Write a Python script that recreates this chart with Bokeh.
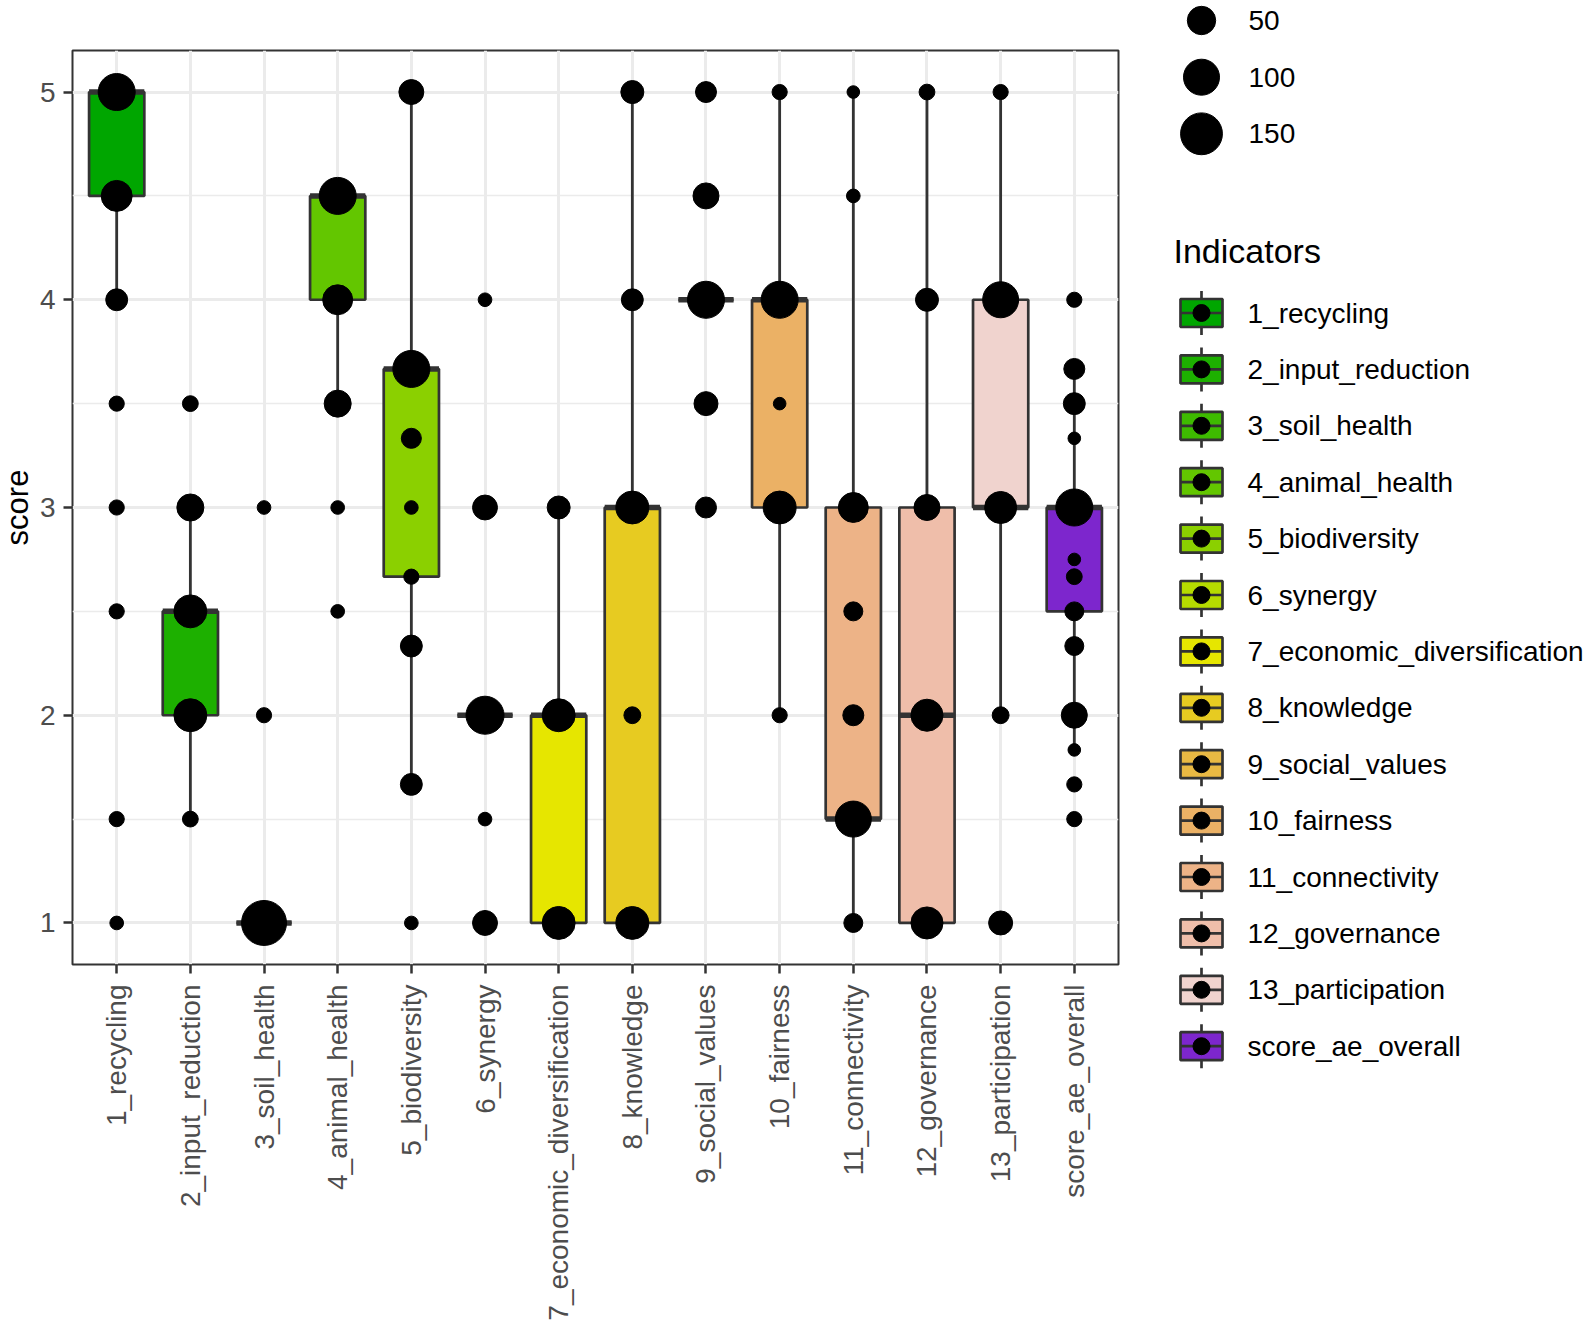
import numpy as np
from bokeh.plotting import figure
from bokeh.models import Range1d, FixedTicker, ColumnDataSource
from bokeh.layouts import row, column
from bokeh.embed import file_html
from bokeh.resources import INLINE
from bokeh.core.properties import value

# ---------------- data ----------------
indicators = ["1_recycling", "2_input_reduction", "3_soil_health", "4_animal_health",
              "5_biodiversity", "6_synergy", "7_economic_diversification", "8_knowledge",
              "9_social_values", "10_fairness", "11_connectivity", "12_governance",
              "13_participation", "score_ae_overall"]

box_q1 = [4.5, 2.0, 1.0, 4.0, 2.667, 2.0, 1.0, 1.0, 4.0, 3.0, 1.5, 1.0, 3.0, 2.5]
box_median = [5.0, 2.5, 1.0, 4.5, 3.667, 2.0, 2.0, 3.0, 4.0, 4.0, 1.5, 2.0, 3.0, 3.0]
box_q3 = [5.0, 2.5, 1.0, 4.5, 3.667, 2.0, 2.0, 3.0, 4.0, 4.0, 3.0, 3.0, 4.0, 3.0]
whisker_low = [4.0, 1.5, 1.0, 3.5, 1.667, 2.0, 1.0, 1.0, 4.0, 2.0, 1.0, 1.0, 2.0, 1.833]
whisker_high = [5.0, 3.0, 1.0, 4.5, 5.0, 2.0, 3.0, 5.0, 4.0, 5.0, 5.0, 5.0, 5.0, 3.667]

point_scores = [
    [5, 4.5, 4, 3.5, 3, 2.5, 1.5, 1],
    [3.5, 3, 2.5, 2, 1.5],
    [3, 2, 1],
    [4.5, 4, 3.5, 3, 2.5],
    [5, 3.667, 3.333, 3, 2.667, 2.333, 1.667, 1],
    [4, 3, 2, 1.5, 1],
    [3, 2, 1],
    [5, 4, 3, 2, 1],
    [5, 4.5, 4, 3.5, 3],
    [5, 4, 3.5, 3, 2],
    [5, 4.5, 3, 2.5, 2, 1.5, 1],
    [5, 4, 3, 2, 1],
    [5, 4, 3, 2, 1],
    [4, 3.667, 3.5, 3.333, 3, 2.75, 2.667, 2.5, 2.333, 2, 1.833, 1.667, 1.5],
]
point_counts = [
    [108, 65, 21, 4, 4, 4, 4, 2],
    [5, 43, 78, 78, 5],
    [2, 4, 181],
    [108, 59, 43, 2, 2],
    [33, 108, 15, 2, 4, 21, 21, 2],
    [2, 33, 116, 2, 33],
    [25, 78, 78],
    [25, 21, 78, 7, 78],
    [18, 38, 108, 29, 18],
    [4, 108, 1, 78, 4],
    [1, 2, 59, 12, 18, 100, 12],
    [5, 25, 38, 72, 72],
    [4, 100, 72, 7, 29],
    [4, 18, 21, 1, 108, 1, 5, 12, 12, 38, 1, 4, 4],
]
size_legend_values = [50, 100, 150]
y_ticks = [1, 2, 3, 4, 5]

fill_colors = ["#00A600", "#1DB000", "#3EBB00", "#63C600", "#8BD000", "#B6DB00", "#E6E600",
               "#E7CB21", "#E9B943", "#EBB165", "#EDB387", "#EFBEAA", "#F0D3CE", "#7D26CD"]

FONT = "Liberation Sans"
EDGE = "#333333"
H = 1330


def diam(n):
    return 10.0 + 2.6 * np.sqrt(np.asarray(n, dtype=float))


def blank_fig(w, flip=True):
    yr = Range1d(H, 0) if flip else Range1d(0, H)
    f = figure(width=w, height=H, x_range=Range1d(0, w), y_range=yr,
               output_backend="svg", toolbar_location=None, min_border=0,
               x_axis_location=None, y_axis_location=None)
    f.outline_line_color = None
    f.grid.visible = False
    f.background_fill_color = "white"
    f.border_fill_color = "white"
    return f


# ---------------- y-axis title strip ----------------
SW = 36
sf = blank_fig(SW, flip=False)
sf.text(x=[17], y=[H - 507], text=["score"], angle=np.pi / 2, text_align="center",
        text_baseline="middle", text_font=value(FONT), text_font_size=value("31px"),
        text_color="black")

# ---------------- main panel ----------------
p = figure(width=1128 - SW, height=H, x_range=Range1d(0.4, 14.6), y_range=Range1d(0.8, 5.2),
           output_backend="svg", toolbar_location=None,
           min_border_left=72 - SW, min_border_top=50, min_border_right=10,
           min_border_bottom=H - 50 - 914)
p.background_fill_color = "white"
p.border_fill_color = "white"
p.outline_line_color = EDGE
p.outline_line_width = 2

xpos = list(range(1, len(indicators) + 1))
bw = 0.75

box_src = ColumnDataSource(dict(x=xpos, q1=box_q1, q3=box_q3, med=box_median,
                                lo=whisker_low, hi=whisker_high, color=fill_colors,
                                x0=[x - bw / 2 for x in xpos], x1=[x + bw / 2 for x in xpos]))
p.segment(x0="x", y0="q3", x1="x", y1="hi", source=box_src, line_color=EDGE, line_width=2.8)
p.segment(x0="x", y0="q1", x1="x", y1="lo", source=box_src, line_color=EDGE, line_width=2.8)
p.vbar(x="x", width=bw, top="q3", bottom="q1", source=box_src, fill_color="color",
       line_color=EDGE, line_width=2.7)
p.segment(x0="x0", y0="med", x1="x1", y1="med", source=box_src, line_color=EDGE, line_width=5.5)

px, py, ps = [], [], []
for i, (vals, cnts) in enumerate(zip(point_scores, point_counts)):
    for v, c in zip(vals, cnts):
        px.append(xpos[i])
        py.append(v)
        ps.append(float(diam(c)))
p.scatter(x=px, y=py, size=ps, color="black", marker="circle")

p.xaxis.ticker = FixedTicker(ticks=xpos)
p.xaxis.major_label_overrides = {x: name for x, name in zip(xpos, indicators)}
p.xaxis.major_label_orientation = np.pi / 2
p.yaxis.ticker = FixedTicker(ticks=y_ticks, minor_ticks=[1.5, 2.5, 3.5, 4.5])
for ax in (p.xaxis[0], p.yaxis[0]):
    ax.axis_line_color = None
    ax.major_tick_line_color = EDGE
    ax.major_tick_line_width = 2.5
    ax.major_tick_out = 9
    ax.major_tick_in = 0
    ax.minor_tick_out = 0
    ax.minor_tick_in = 0
    ax.major_label_text_font = FONT
    ax.major_label_text_font_size = "28px"
    ax.major_label_text_color = "#4D4D4D"
    ax.major_label_standoff = 11
p.yaxis[0].major_label_standoff = 8

p.xgrid.grid_line_color = "#EBEBEB"
p.xgrid.grid_line_width = 3
p.ygrid.grid_line_color = "#EBEBEB"
p.ygrid.grid_line_width = 3
p.ygrid.minor_grid_line_color = "#EBEBEB"
p.ygrid.minor_grid_line_width = 1.6
p.xgrid.level = "underlay"
p.ygrid.level = "underlay"

# ---------------- legend panel ----------------
LW = 462
lg = blank_fig(LW)

size_y = [20, 76.7, 133.3]
lg.scatter(x=[73] * 3, y=size_y, size=list(diam(size_legend_values)), color="black", marker="circle")
lg.text(x=[120] * 3, y=size_y, text=[str(v) for v in size_legend_values], text_baseline="middle",
        text_font=value(FONT), text_font_size=value("28px"), text_color="black")

lg.text(x=[45], y=[250], text=["Indicators"], text_baseline="middle",
        text_font=value(FONT), text_font_size=value("34px"), text_color="black")

ky = [312.5 + 56.4 * i for i in range(len(indicators))]
kx = 73
kw, kh = 42, 28
lg.segment(x0=[kx] * len(ky), y0=[y - 22 for y in ky], x1=[kx] * len(ky), y1=[y + 22 for y in ky],
           line_color=EDGE, line_width=2.7)
lg.quad(left=[kx - kw / 2] * len(ky), right=[kx + kw / 2] * len(ky),
        top=[y - kh / 2 for y in ky], bottom=[y + kh / 2 for y in ky],
        fill_color=fill_colors, line_color=EDGE, line_width=2.7)
lg.segment(x0=[kx - kw / 2] * len(ky), y0=ky, x1=[kx + kw / 2] * len(ky), y1=ky,
           line_color=EDGE, line_width=2.7)
lg.scatter(x=[kx] * len(ky), y=ky, size=17, color="black", marker="circle")
lg.text(x=[119] * len(ky), y=ky, text=indicators, text_baseline="middle",
        text_font=value(FONT), text_font_size=value("28px"), text_color="black")

layout = row(column(sf), p, column(lg))
open("out.html", "w").write(file_html(layout, INLINE))
